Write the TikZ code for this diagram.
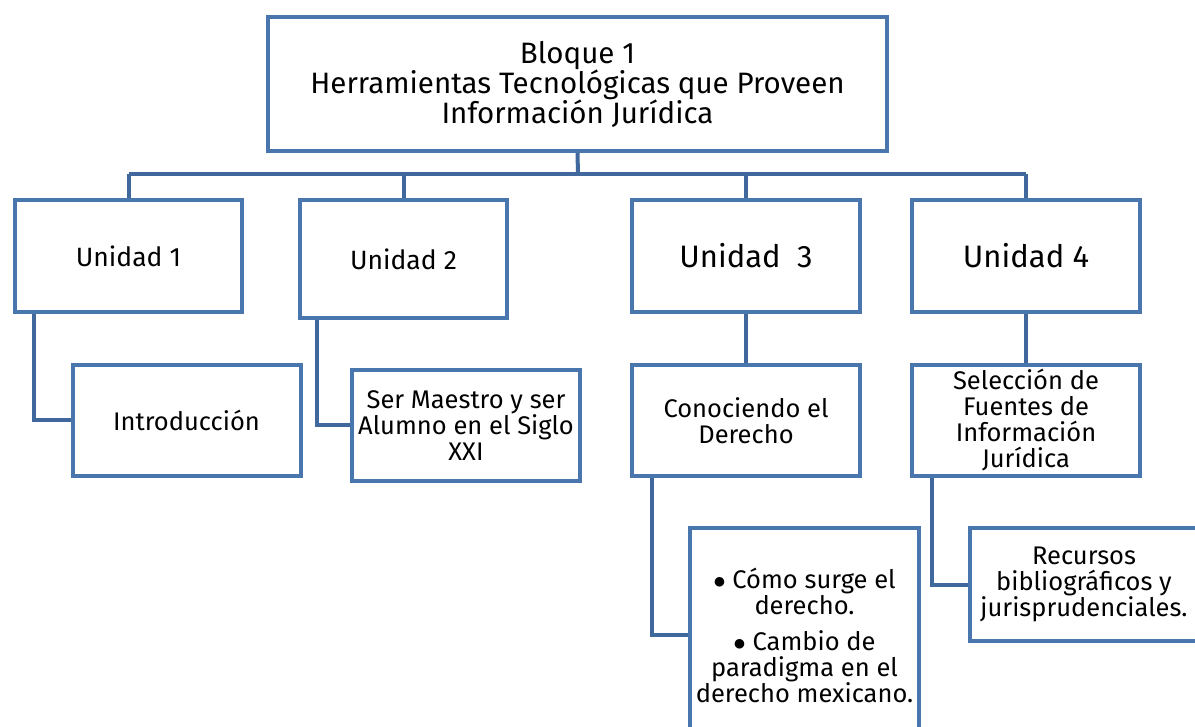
\documentclass[tikz,border=0pt]{standalone}
\usepackage{fontspec}
\setmainfont{Fira Sans}
\definecolor{boxblue}{RGB}{74,118,174}
\definecolor{lineblue}{RGB}{64,104,156}

\begin{document}
\begin{tikzpicture}[x=1pt,y=-1pt,
		caja/.style={draw=boxblue, line width=4pt, fill=white, align=center, inner sep=2pt,
			minimum width=228pt, minimum height=111pt, font=\fontsize{25.5}{26}\selectfont},
		enlace/.style={draw=lineblue, line width=4pt}]
		\useasboundingbox (0,0) rectangle (1195,727);
		\begin{scope}                           % recorte al marco
			\clip (0,0) rectangle (1195,727);
			% bloque y unidades
			\node[caja, minimum width=619pt, minimum height=134pt, font=\fontsize{29.5}{30}\selectfont]
				(bloque) at (577.5,84) {Bloque 1\\Herramientas Tecnológicas que Proveen\\Información Jurídica};
			\node[caja, minimum width=227pt, minimum height=112pt, font=\fontsize{26.5}{28}\selectfont]
				(unidad1) at (128.5,256) {Unidad 1};
			\node[caja, minimum width=207pt, minimum height=118pt, font=\fontsize{26.5}{28}\selectfont]
				(unidad2) at (403.5,259) {Unidad 2};
			\node[caja, minimum height=112pt, font=\fontsize{31}{32}\selectfont]
				(unidad3) at (746,256) {Unidad\ \ 3};
			\node[caja, minimum height=112pt, font=\fontsize{31}{32}\selectfont]
				(unidad4) at (1026,256) {Unidad 4};
			% temas
			\node[caja] (intro) at (186.5,420.5) {Introducción};
			\node[caja] (maestro) at (466,425.5) {Ser Maestro y ser\\Alumno en el Siglo\\XXI};
			\node[caja] (conociendo) at (746,420.5) {Conociendo el\\Derecho};
			\node[caja] (seleccion) at (1026,420.5) {Selección de\\Fuentes de\\Información\\Jurídica};
			\node[caja, minimum width=229pt, minimum height=214pt] (cambio) at (804.5,635)
				{$\bullet$ Cómo surge el\\derecho.\\[10pt]$\bullet$ Cambio de\\paradigma en el\\derecho mexicano.};
			\node[caja, minimum height=113pt] (recursos) at (1084,584.5)
				{Recursos\\bibliográficos y\\jurisprudenciales.};
			% enlaces
			\coordinate (bus) at (578,174);
			\draw[enlace] (bloque.south) -- (bus);
			\draw[enlace] (bus -| unidad1.north) -- (bus -| unidad4.north);
			\foreach \u in {unidad1,unidad2,unidad3,unidad4}
				\draw[enlace] (bus -| \u.north) -- (\u.north);
			\draw[enlace] ([xshift=21pt]unidad1.south west) |- (intro.west);
			\draw[enlace] ([xshift=19pt]unidad2.south west) |- (maestro.west);
			\draw[enlace] (unidad3.south) -- (conociendo.north);
			\draw[enlace] (unidad4.south) -- (seleccion.north);
			\draw[enlace] ([xshift=22pt]conociendo.south west) |- (cambio.west);
			\draw[enlace] ([xshift=22pt]seleccion.south west) |- (recursos.west);
		\end{scope}
\end{tikzpicture}
\end{document}
